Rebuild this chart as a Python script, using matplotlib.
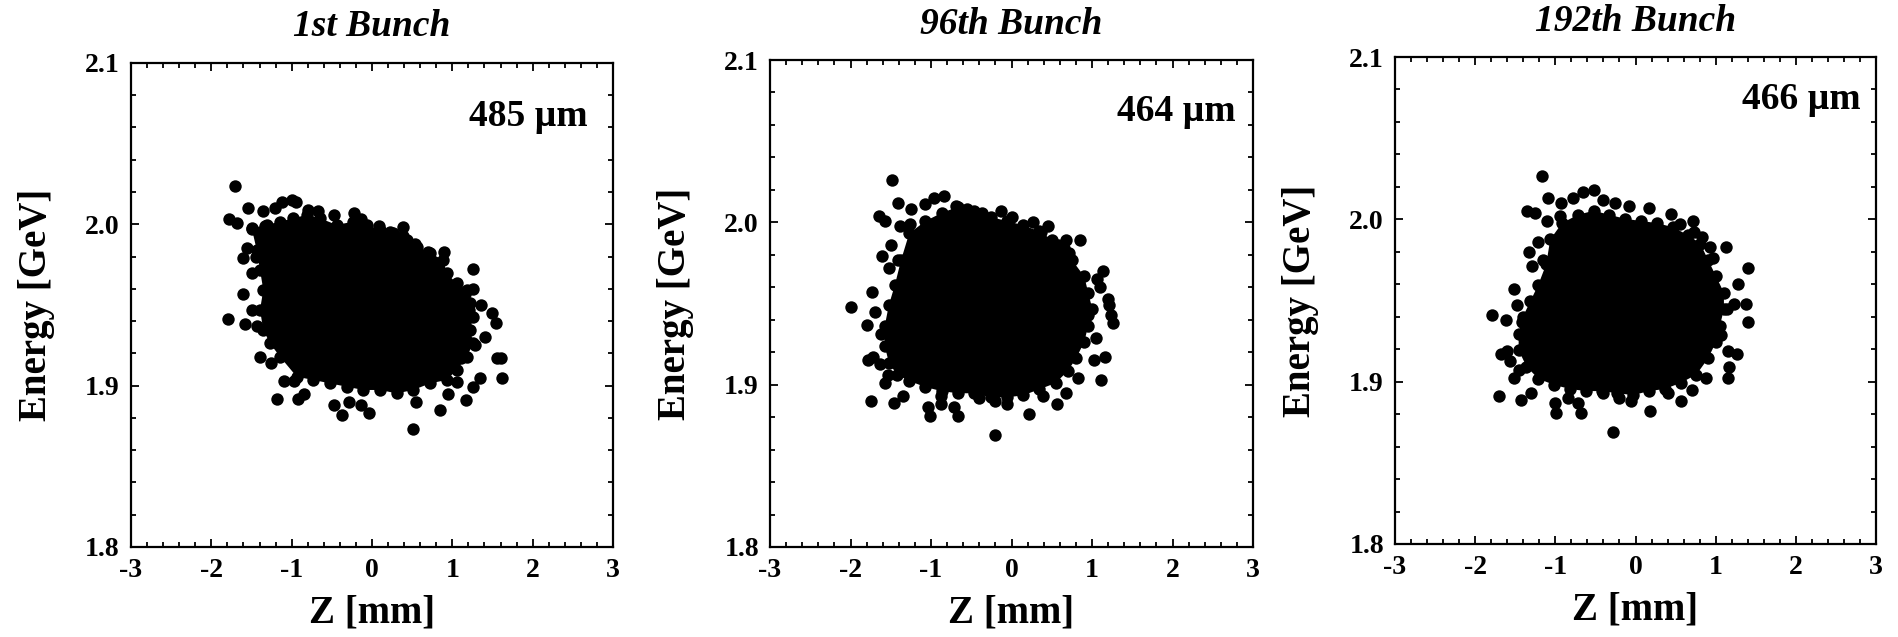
import matplotlib.pyplot as plt
from matplotlib.ticker import MultipleLocator
import numpy as np

plt.rcParams['font.family'] = ['Liberation Serif', 'DejaVu Serif']
plt.rcParams['font.weight'] = 'bold'

titles = ['1st Bunch', '96th Bunch', '192th Bunch']
lengths = ['485 \u00b5m', '464 \u00b5m', '466 \u00b5m']

# outline of the solid (overlapping) core of each bunch, Z [mm] / E [GeV]
core1_z = [-1.497, -1.311, -1.145, -0.979, -0.813, -0.647, -0.440, -0.233, -0.066, 0.100,
           0.265, 0.432, 0.556, 0.722, 0.888, 0.930, 1.054, 1.179, 1.220, 1.262,
           1.220, 1.262, 1.179, 1.054, 0.930, 0.722, 0.515, 0.307, 0.100, -0.108,
           -0.315, -0.523, -0.730, -0.937, -1.145, -1.270, -1.353, -1.394, -1.353, -1.394,
           -1.435]
core1_e = [1.9975, 1.9996, 2.0016, 2.0037, 2.0058, 2.0037, 1.9996, 2.0016, 1.9996, 1.9965,
           1.9944, 1.9903, 1.9861, 1.9820, 1.9779, 1.9696, 1.9634, 1.9593, 1.9510, 1.9427,
           1.9345, 1.9262, 1.9179, 1.9097, 1.9035, 1.9014, 1.8973, 1.8952, 1.8973, 1.8973,
           1.8993, 1.9014, 1.9035, 1.9055, 1.9179, 1.9262, 1.9345, 1.9469, 1.9593, 1.9717,
           1.9841]
core2_z = [-1.372, -1.271, -1.069, -0.867, -0.664, -0.462, -0.260, -0.058, 0.145, 0.347,
           0.498, 0.650, 0.751, 0.903, 0.953, 1.004, 0.953, 0.903, 0.802, 0.701,
           0.549, 0.347, 0.145, -0.058, -0.260, -0.462, -0.664, -0.867, -1.069, -1.271,
           -1.423, -1.524, -1.574, -1.574, -1.524, -1.448]
core2_e = [1.9768, 1.9932, 2.0008, 2.0058, 2.0096, 2.0071, 2.0033, 2.0008, 1.9982, 1.9944,
           1.9894, 1.9843, 1.9768, 1.9667, 1.9566, 1.9465, 1.9364, 1.9263, 1.9162, 1.9086,
           1.9010, 1.8972, 1.8934, 1.8922, 1.8922, 1.8947, 1.8947, 1.8960, 1.8985, 1.9023,
           1.9061, 1.9136, 1.9237, 1.9364, 1.9490, 1.9616]
core3_z = [-1.113, -1.064, -0.916, -0.719, -0.522, -0.325, -0.128, 0.069, 0.266, 0.463,
           0.660, 0.808, 0.906, 1.005, 1.103, 1.103, 1.054, 1.005, 0.906, 0.759,
           0.562, 0.365, 0.167, -0.030, -0.227, -0.424, -0.621, -0.818, -1.015, -1.212,
           -1.360, -1.458, -1.458, -1.409, -1.310, -1.212]
core3_e = [1.9725, 1.9876, 1.9977, 2.0028, 2.0053, 2.0028, 2.0003, 1.9990, 1.9977, 1.9952,
           1.9902, 1.9851, 1.9750, 1.9649, 1.9548, 1.9447, 1.9346, 1.9245, 1.9144, 1.9043,
           1.8992, 1.8955, 1.8942, 1.8917, 1.8929, 1.8942, 1.8942, 1.8955, 1.8980, 1.9018,
           1.9093, 1.9194, 1.9295, 1.9396, 1.9497, 1.9598]

# individual particles outside the core
pts1_z = [-1.70, -1.78, -1.68, -1.54, -1.36, -1.21, -1.12, -1.00, -0.95, -1.49,
          -1.33, -1.56, -1.60, -1.45, -1.49, -1.60, -1.49, -1.79, -1.58, -1.43,
          -1.39, -1.26, -1.10, -1.18, -0.92, -0.85, -0.97, -0.47, -0.37, -0.29,
          -0.14, -0.04, 0.51, 0.84, 0.55, 0.94, 1.17, 1.26, 1.34, 1.62,
          1.55, 1.60, 1.41, 1.54, 1.49, 1.36, 1.26, 1.26, 1.16, 0.90,
          0.70, 0.54, 0.39, 0.38, 0.23, 0.09, -0.23, -0.14, -0.47, -0.67,
          -0.80, 1.21, 1.16, 1.28, 1.11, 1.06]
pts1_e = [2.024, 2.003, 2.001, 2.010, 2.008, 2.010, 2.014, 2.015, 2.014, 1.997,
          1.999, 1.985, 1.979, 1.980, 1.970, 1.957, 1.947, 1.941, 1.938, 1.937,
          1.918, 1.914, 1.903, 1.892, 1.892, 1.895, 1.903, 1.888, 1.882, 1.890,
          1.888, 1.883, 1.873, 1.885, 1.890, 1.895, 1.891, 1.899, 1.905, 1.905,
          1.917, 1.917, 1.930, 1.939, 1.945, 1.950, 1.960, 1.972, 1.957, 1.983,
          1.983, 1.988, 1.993, 1.998, 1.995, 1.999, 2.007, 2.003, 2.006, 2.008,
          2.009, 1.947, 1.937, 1.925, 1.917, 1.902]
pts2_z = [-1.48, -1.65, -1.57, -1.41, -1.25, -1.07, -0.96, -0.84, -0.69, -0.55,
          -0.37, -0.13, 0.01, 0.27, 0.45, 0.68, 0.85, 1.14, 1.06, 1.21,
          1.26, 0.95, 1.05, 1.16, 1.03, 1.11, 0.83, 0.68, 0.57, 0.39,
          0.22, -0.21, -0.06, -0.21, -0.41, -0.67, -0.72, -0.87, -0.87, -1.01,
          -1.04, -1.35, -1.46, -1.74, -1.57, -1.53, -1.64, -1.78, -1.72, -2.00,
          -1.80, -1.70, -1.73, -1.62, -1.61, -1.52, -1.50, -1.41, -1.39, -1.26,
          0.71, 0.58, 0.37, 1.10, 1.20, 1.23]
pts2_e = [2.026, 2.004, 2.001, 2.012, 2.008, 2.011, 2.015, 2.016, 2.010, 2.008,
          2.006, 2.007, 2.003, 2.000, 1.998, 1.989, 1.989, 1.970, 1.965, 1.949,
          1.938, 1.943, 1.929, 1.917, 1.915, 1.903, 1.904, 1.895, 1.888, 1.893,
          1.882, 1.869, 1.888, 1.890, 1.892, 1.881, 1.886, 1.888, 1.893, 1.881,
          1.886, 1.893, 1.889, 1.890, 1.901, 1.906, 1.913, 1.915, 1.917, 1.948,
          1.937, 1.945, 1.957, 1.931, 1.979, 1.972, 1.986, 1.977, 1.998, 1.999,
          1.981, 1.986, 1.994, 1.960, 1.953, 1.943]
pts3_z = [-1.17, -1.35, -1.25, -1.09, -0.93, -0.78, -0.65, -0.52, -0.41, -0.25,
          -0.08, 0.17, 0.44, 0.56, 0.72, 0.83, 0.93, 1.13, 1.40, 1.28,
          1.23, 1.38, 1.40, 1.14, 1.07, 1.15, 1.27, 1.15, 0.88, 0.71,
          0.57, 0.40, 0.18, -0.28, -0.05, -0.20, -0.40, -0.68, -0.72, -0.84,
          -1.01, -0.99, -1.30, -1.43, -1.70, -1.51, -1.45, -1.56, -1.68, -1.60,
          -1.79, -1.62, -1.48, -1.51, -1.41, -1.33, -1.29, -1.22, -1.15, -1.10,
          -0.94, 0.73, 0.97, 1.17]
pts3_e = [2.027, 2.005, 2.004, 2.013, 2.010, 2.013, 2.017, 2.018, 2.012, 2.010,
          2.008, 2.007, 2.003, 1.997, 1.999, 1.989, 1.983, 1.983, 1.970, 1.960,
          1.948, 1.948, 1.937, 1.945, 1.929, 1.919, 1.917, 1.902, 1.902, 1.895,
          1.888, 1.893, 1.882, 1.869, 1.888, 1.890, 1.893, 1.881, 1.887, 1.890,
          1.887, 1.881, 1.893, 1.889, 1.891, 1.902, 1.907, 1.913, 1.917, 1.919,
          1.941, 1.938, 1.947, 1.957, 1.937, 1.980, 1.971, 1.986, 1.975, 1.999,
          2.002, 1.992, 1.976, 1.909]

cores = [(core1_z, core1_e), (core2_z, core2_e), (core3_z, core3_e)]
points = [(pts1_z, pts1_e), (pts2_z, pts2_e), (pts3_z, pts3_e)]

fig = plt.figure(figsize=(18.98, 6.37), dpi=100)
rects = [[0.0690, 0.1413, 0.2540, 0.7600],
         [0.4057, 0.1413, 0.2545, 0.7645],
         [0.7350, 0.1460, 0.2534, 0.7645]]
label_pos = [(0.948, 0.89), (0.963, 0.895), (0.969, 0.912)]

for i in range(3):
    ax = fig.add_axes(rects[i])
    cz, ce = cores[i]
    ax.fill(cz, ce, color='black', lw=0)
    ax.scatter(cz, ce, s=80, color='black', lw=0)
    pz, pe = points[i]
    ax.scatter(pz, pe, s=80, color='black', lw=0)

    ax.set_xlim(-3, 3)
    ax.set_ylim(1.8, 2.1)
    ax.xaxis.set_major_locator(MultipleLocator(1))
    ax.xaxis.set_minor_locator(MultipleLocator(0.2))
    ax.yaxis.set_major_locator(MultipleLocator(0.1))
    ax.yaxis.set_minor_locator(MultipleLocator(0.02))
    ax.set_yticklabels(['%.1f' % v for v in ax.get_yticks()])
    ax.set_xticklabels(['%d' % v for v in ax.get_xticks()])
    ax.tick_params(which='both', direction='in', top=True, right=True,
                   width=1.3, labelsize=20)
    ax.tick_params(which='major', length=6)
    ax.tick_params(which='minor', length=3.5)
    ax.tick_params(axis='x', pad=8)
    ax.tick_params(axis='y', pad=8)
    for sp in ax.spines.values():
        sp.set_linewidth(1.6)

    ax.set_xlabel('Z [mm]', fontsize=28, fontweight='bold', labelpad=8)
    ax.set_ylabel('Energy [GeV]', fontsize=28, fontweight='bold', labelpad=22)
    ax.set_title(titles[i], fontsize=27, fontweight='bold', style='italic', pad=19)
    ax.text(label_pos[i][0], label_pos[i][1], lengths[i], transform=ax.transAxes,
            ha='right', va='center', fontsize=27, fontweight='bold')

fig.savefig('out.png', dpi=100)
